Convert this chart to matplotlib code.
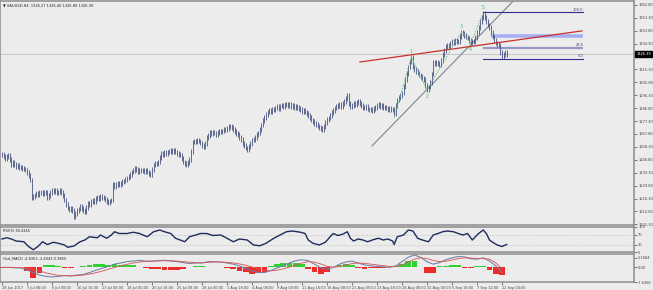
import matplotlib
matplotlib.use("Agg")
import matplotlib.pyplot as plt
import matplotlib.transforms as mtransforms
import numpy as np

# ---------------- data ----------------
closes = [
    1252.5, 1251.0, 1249.8, 1251.5, 1252.3, 1249.0, 1245.0, 1246.5, 1245.2, 1244.0,
    1244.6, 1243.0, 1243.5, 1242.4, 1242.0, 1241.3, 1239.5, 1237.0, 1233.9, 1220.7,
    1221.5, 1222.9, 1224.0, 1223.2, 1225.1, 1224.5, 1223.8, 1225.0, 1224.4, 1220.7,
    1222.8, 1225.0, 1226.6, 1225.4, 1226.0, 1224.8, 1225.1, 1226.2, 1224.4, 1222.5,
    1219.2, 1216.0, 1213.3, 1212.5, 1213.0, 1211.8, 1206.7, 1209.0, 1211.8, 1212.6,
    1214.1, 1212.8, 1211.5, 1210.4, 1213.5, 1217.0, 1216.2, 1218.0, 1219.2, 1218.4,
    1220.0, 1221.4, 1220.2, 1221.8, 1221.0, 1220.7, 1219.5, 1218.2, 1217.0, 1218.5,
    1219.2, 1230.3, 1229.0, 1230.6, 1231.7, 1230.8, 1231.5, 1232.5, 1233.2, 1234.0,
    1235.4, 1236.8, 1238.2, 1239.8, 1241.0, 1242.8, 1241.5, 1240.2, 1241.3, 1240.6,
    1241.0, 1240.2, 1240.8, 1239.8, 1238.5, 1237.6, 1241.5, 1245.0, 1246.2, 1245.8,
    1247.2, 1250.5, 1253.8, 1253.0, 1254.2, 1253.6, 1254.5, 1255.2, 1256.0, 1255.0,
    1255.6, 1254.5, 1253.5, 1253.0, 1252.3, 1250.0, 1247.2, 1246.0, 1245.0, 1246.8,
    1248.7, 1255.0, 1261.9, 1262.5, 1262.0, 1263.4, 1262.6, 1261.2, 1259.5, 1258.2,
    1261.0, 1264.9, 1267.0, 1269.3, 1268.0, 1269.0, 1268.5, 1267.6, 1268.8, 1269.5,
    1269.3, 1270.0, 1271.2, 1270.8, 1272.0, 1273.0, 1273.7, 1272.4, 1271.0, 1269.5,
    1268.2, 1267.1, 1265.0, 1263.5, 1261.0, 1259.0, 1257.5, 1256.0, 1258.5, 1260.8,
    1263.4, 1264.0, 1265.5, 1267.2, 1268.5, 1271.0, 1274.4, 1277.5, 1280.0, 1282.2,
    1284.0, 1285.0, 1284.4, 1286.2, 1285.6, 1286.9, 1287.8, 1286.5, 1288.4, 1289.0,
    1288.2, 1289.9, 1289.2, 1288.6, 1289.5, 1287.9, 1288.8, 1287.6, 1288.4, 1287.0,
    1286.3, 1285.5, 1284.6, 1285.2, 1284.0, 1283.0, 1281.4, 1280.2, 1278.1, 1277.0,
    1275.5, 1274.8, 1273.7, 1272.5, 1271.6, 1270.8, 1273.5, 1276.0, 1278.2, 1279.6,
    1281.5, 1283.4, 1285.2, 1286.9, 1287.8, 1288.5, 1289.2, 1288.0, 1290.5, 1291.8,
    1294.0, 1296.5, 1290.0, 1287.7, 1289.0, 1290.4, 1289.6, 1291.0, 1291.4, 1290.2,
    1288.5, 1287.6, 1286.9, 1287.8, 1286.2, 1285.5, 1286.0, 1284.7, 1286.3, 1287.5,
    1288.6, 1289.2, 1288.0, 1288.8, 1287.1, 1287.7, 1286.9, 1286.0, 1286.8, 1285.9,
    1285.5, 1283.0, 1288.5, 1292.8, 1294.5, 1296.2, 1298.0, 1303.0, 1307.6, 1312.5,
    1317.1, 1321.0, 1324.5, 1317.1, 1315.5, 1314.0, 1312.7, 1311.2, 1309.8, 1308.6,
    1307.6, 1303.5, 1300.2, 1302.4, 1305.4, 1312.0, 1320.1, 1319.4, 1320.8, 1319.8,
    1318.6, 1322.0, 1326.0, 1329.5, 1331.9, 1333.2, 1332.5, 1334.8, 1336.1, 1335.3,
    1337.0, 1336.2, 1335.6, 1339.4, 1342.9, 1341.6, 1340.0, 1339.2, 1338.5, 1336.4,
    1334.8, 1335.9, 1335.6, 1338.8, 1342.2, 1346.5, 1350.3, 1353.5, 1356.9, 1353.8,
    1350.3, 1348.0, 1345.9, 1342.8, 1339.2, 1336.5, 1334.8, 1334.0, 1333.3, 1327.5,
    1324.5, 1326.0, 1327.5, 1326.39]

price_ticks = [1362.80, 1353.30, 1343.80, 1334.30, 1324.80, 1315.30, 1305.80,
               1296.30, 1286.80, 1277.30, 1267.80, 1258.30, 1248.80, 1239.30,
               1229.80, 1220.30, 1210.80, 1201.30]
last_price = 1326.39

time_labels = ["28 Jun 2017", "3 Jul 08:00", "6 Jul 00:00", "10 Jul 16:00",
               "13 Jul 08:00", "18 Jul 00:00", "20 Jul 16:00", "25 Jul 08:00",
               "28 Jul 00:00", "1 Aug 16:00", "4 Aug 08:00", "9 Aug 00:00",
               "11 Aug 16:00", "16 Aug 08:00", "21 Aug 00:00", "23 Aug 16:00",
               "28 Aug 08:00", "31 Aug 00:00", "5 Sep 16:00", "7 Sep 12:00",
               "12 Sep 04:00"]
time_label_idx = list(range(0, 321, 16))

# RSI(9) read at bar positions
rsi_idx = [0, 3, 6, 9, 14, 17, 20, 23, 26, 29, 33, 36, 40, 42, 46, 50, 53, 56, 61,
           63, 67, 70, 72, 75, 80, 84, 88, 93, 97, 101, 104, 108, 111, 114, 117,
           120, 124, 127, 131, 135, 140, 144, 148, 152, 157, 161, 165, 169, 174,
           178, 182, 186, 191, 194, 196, 199, 203, 207, 210, 212, 215, 218, 221,
           223, 225, 228, 231, 234, 237, 241, 244, 247, 250, 251, 253, 257, 260,
           263, 266, 269, 273, 276, 279, 282, 285, 289, 292, 295, 298, 301, 305,
           308, 310, 312, 314, 317, 320, 323]
rsi_val = [52, 57, 52, 44, 41, 22, 9, 22, 41, 30, 39, 35, 28, 19, 24, 41, 48, 61, 57,
           68, 55, 68, 81, 74, 74, 79, 74, 61, 81, 88, 81, 74, 55, 48, 41,
           61, 68, 74, 74, 66, 68, 55, 41, 52, 48, 28, 25, 35, 55,
           68, 81, 84, 79, 74, 48, 35, 28, 39, 61, 74, 66, 71, 81,
           55, 44, 52, 48, 41, 48, 55, 48, 52, 44, 30, 61, 68, 88,
           84, 55, 48, 41, 68, 74, 81, 84, 81, 74, 68, 74, 48, 74,
           88, 74, 48, 39, 28, 22, 30]

# MACD read every 4 bars
macd_idx = list(range(0, 321, 4))
macd_main = [0.0, 0.0, -0.2, -0.3, -1.3, -2.7, -4.0, -4.7, -5.0, -4.7,
             -4.3, -4.5, -4.0, -3.7, -2.7, -1.5, -0.5, 0.5, 1.7, 2.3,
             3.0, 3.3, 3.7, 3.3, 3.3, 3.5, 3.7, 3.3, 3.0, 2.5,
             2.0, 2.3, 2.3, 3.0, 3.0, 2.8, 2.3, 1.7, 0.8, -0.5,
             -1.8, -2.7, -2.7, -1.7, -0.3, 1.0, 2.3, 3.5, 4.0, 3.5,
             1.7, -0.2, -1.0, 0.0, 1.7, 2.8, 3.3, 2.3, 1.3, 0.8,
             0.5, 0.3, 0.0, 0.8, 3.0, 5.3, 6.5, 5.2, 3.0, 1.7,
             2.5, 4.0, 5.0, 5.7, 5.5, 4.5, 4.3, 5.0, 3.3, 0.8,
             -2.8]
macd_signal = [0.0, 0.0, 0.0, -0.1, -0.4, -1.0, -1.9, -2.8, -3.6, -4.1,
               -4.3, -4.4, -4.3, -4.0, -3.5, -2.8, -2.0, -1.0, 0.0, 0.9,
               1.6, 2.3, 2.8, 3.1, 3.2, 3.4, 3.5, 3.5, 3.3, 3.0,
               2.7, 2.5, 2.4, 2.6, 2.8, 2.8, 2.6, 2.3, 1.8, 1.1,
               0.2, -0.8, -1.6, -1.8, -1.5, -0.8, 0.2, 1.3, 2.3, 3.0,
               2.8, 1.8, 0.6, 0.1, 0.4, 1.2, 2.0, 2.3, 2.1, 1.7,
               1.3, 0.9, 0.5, 0.5, 1.3, 2.8, 4.3, 5.0, 4.6, 3.6,
               3.0, 3.2, 3.9, 4.6, 5.0, 4.9, 4.6, 4.7, 4.3, 2.4,
               -0.8]
macd_hist = [-0.4, -0.3, 0.3, 0.2, -2.0, -5.5, -3.0, 1.0, 1.2, 0.8,
             -0.3, -0.5, 0.2, 0.9, 1.5, 1.7, 1.6, 1.4, 1.7, 1.5,
             1.2, 1.0, 0.4, -0.4, -0.6, -0.9, -1.3, -1.6, -1.4, -1.0,
             0.3, 0.7, 0.6, 0.4, 0.2, 0.1, -0.3, -1.0, -1.8, -2.6,
             -3.2, -3.0, -2.2, 0.5, 1.6, 2.2, 2.5, 2.3, 1.6, -0.8,
             -2.5, -3.3, -2.6, 0.3, 1.2, 1.7, 1.4, -0.3, -0.6, -0.5,
             -0.4, -0.2, 0.0, 0.6, 2.0, 3.2, 3.4, 0.2, -3.0, -2.8,
             0.5, 0.9, 1.0, 1.0, -0.4, -0.5, 0.6, 0.7, -1.5, -3.2,
             -3.8]

# drawing objects (in bar-index / price space)
fib_start_idx, fib_end_idx = 308, 372
fib_high, fib_low = 1357.4, 1323.2
fib_levels = [0.0, 23.6, 100.0]
zone_start_idx, zone_price = 313, 1339.6
red_line_idx = [229.1, 371.2]
red_line_price = [1320.8, 1343.7]
gray_line_idx = [236.8, 330.0]
gray_line_price = [1259.0, 1369.0]
wave_idx = [251, 262, 272, 294, 300, 308]
wave_price = [1280.0, 1324.5, 1300.2, 1342.9, 1334.8, 1356.9]
wave_names = ["", "1", "2", "3", "4", "5"]

# ---------------- style ----------------
BG = "#ECECEC"
SP = "#8C8C8C"
BAR = "#3A4676"
FS = 2.6
W, H = 653, 290
XL = (-1.28, 404.5)

fig = plt.figure(figsize=(W / 100, H / 100), dpi=100)
fig.patch.set_facecolor(BG)


def make_ax(top, bottom):
    a = fig.add_axes([0, (H - bottom) / H, 634 / W, (bottom - top) / H])
    a.set_facecolor(BG)
    for s in a.spines.values():
        s.set_color(SP)
        s.set_linewidth(1.1)
    a.set_xlim(*XL)
    a.yaxis.tick_right()
    a.tick_params(axis="y", labelsize=FS, length=2, width=0.5, pad=1,
                  colors="#444444")
    a.tick_params(axis="x", bottom=False, labelbottom=False)
    return a


# ---------------- main price panel ----------------
ax = make_ax(1, 225)
ax.set_ylim(1200.8, 1365.7)
ax.set_yticks(price_ticks)
ax.set_yticklabels([f"{v:.2f}" for v in price_ticks])

idx = np.arange(len(closes))
c = np.array(closes)
o = np.concatenate([[c[0] + 0.5], c[:-1]])
wick = 1.8
hi = np.maximum(o, c) + wick
lo = np.minimum(o, c) - wick
ax.vlines(idx, lo, hi, color=BAR, lw=0.55, zorder=3)

# bid line
ax.axhline(last_price, color="#B8B8B8", lw=0.5, zorder=1)

# trend lines
ax.plot(red_line_idx, red_line_price, color="#C8302C", lw=0.9, zorder=4)
ax.plot(gray_line_idx, gray_line_price, color="#7C8494", lw=0.8, zorder=2)

# fibonacci
for lev in fib_levels:
    p = fib_low + (fib_high - fib_low) * lev / 100.0
    if lev == 23.6:
        ax.plot([fib_start_idx, fib_end_idx], [p, p], color="#9898C4", lw=1.6,
                solid_capstyle="butt", zorder=2)
    else:
        ax.plot([fib_start_idx, fib_end_idx], [p, p], color="#303088", lw=0.8,
                zorder=2)
    ax.text(fib_end_idx, p + 0.4, f"{lev:.1f}", fontsize=2.6, color="#404070",
            ha="right", va="bottom")
ax.plot([zone_start_idx, fib_end_idx], [zone_price, zone_price], color="#A8AEF2",
        lw=2.6, solid_capstyle="butt", zorder=2)

# Elliott waves
ax.plot(wave_idx, wave_price, color="#5CC07A", lw=0.6, ls=(0, (2, 1.5)), zorder=4)
for i, p, n in zip(wave_idx, wave_price, wave_names):
    if not n:
        continue
    dy = 4 if n in ("1", "3", "5") else -5
    ax.annotate(n, (i, p), xytext=(0, dy), textcoords="offset points",
                fontsize=3.4, color="#4CB86A", ha="center", va="center")

# header
ax.text(0.004, 0.988, "\u25BC XAUUSD,H4  1326.27 1326.40 1325.80 1326.39",
        transform=ax.transAxes, fontsize=2.6, color="#222222", va="top")

# price box
tr = mtransforms.blended_transform_factory(ax.transAxes, ax.transData)
ax.text(1.004, last_price, f"{last_price:.2f}", transform=tr, fontsize=FS,
        color="white", va="center", ha="left", zorder=10,
        bbox=dict(boxstyle="square,pad=0.3", fc="black", ec="black"))

# ---------------- RSI panel ----------------
ax2 = make_ax(227, 252)
ax2.set_ylim(0, 100)
ax2.set_yticks([100, 70, 30, 0])
ax2.set_yticklabels(["100", "70", "30", "0"])
for lv in (70, 30):
    ax2.axhline(lv, color="#A8A8A8", lw=0.5, ls=(0, (1, 2)))
ax2.plot(rsi_idx, rsi_val, color="#1E2C5C", lw=1.0)
ax2.text(0.004, 0.93, "RSI(9) 38.4345", transform=ax2.transAxes, fontsize=2.6,
         color="#222222", va="top")

# ---------------- MACD panel ----------------
ax3 = make_ax(254, 282)
ax3.set_ylim(-7.6366, 7.0)
ax3.set_yticks([5.1684, 0.0, -7.6366])
ax3.set_yticklabels(["5.1684", "0.00", "-7.6366"])
hcol = ["#33D033" if v >= 0 else "#EE2B2B" for v in macd_hist]
ax3.bar(macd_idx, macd_hist, width=3.8, color=hcol, linewidth=0, zorder=2)
ax3.plot(macd_idx, macd_main, color="#6E7EA8", lw=0.75, zorder=3)
ax3.plot(macd_idx, macd_signal, color="#D85A5A", lw=0.65, zorder=3)
ax3.text(0.004, 0.93, "Osd_MACD -2.8353 -2.4943 0.3850", transform=ax3.transAxes,
         fontsize=2.6, color="#222222", va="top")

ax3.tick_params(axis="x", bottom=True, labelbottom=True, labelsize=2.5,
                length=2, width=0.5, pad=1, colors="#444444")
ax3.set_xticks(time_label_idx)
ax3.set_xticklabels(time_labels, ha="left")

fig.savefig("out.png", dpi=100, facecolor=BG)
